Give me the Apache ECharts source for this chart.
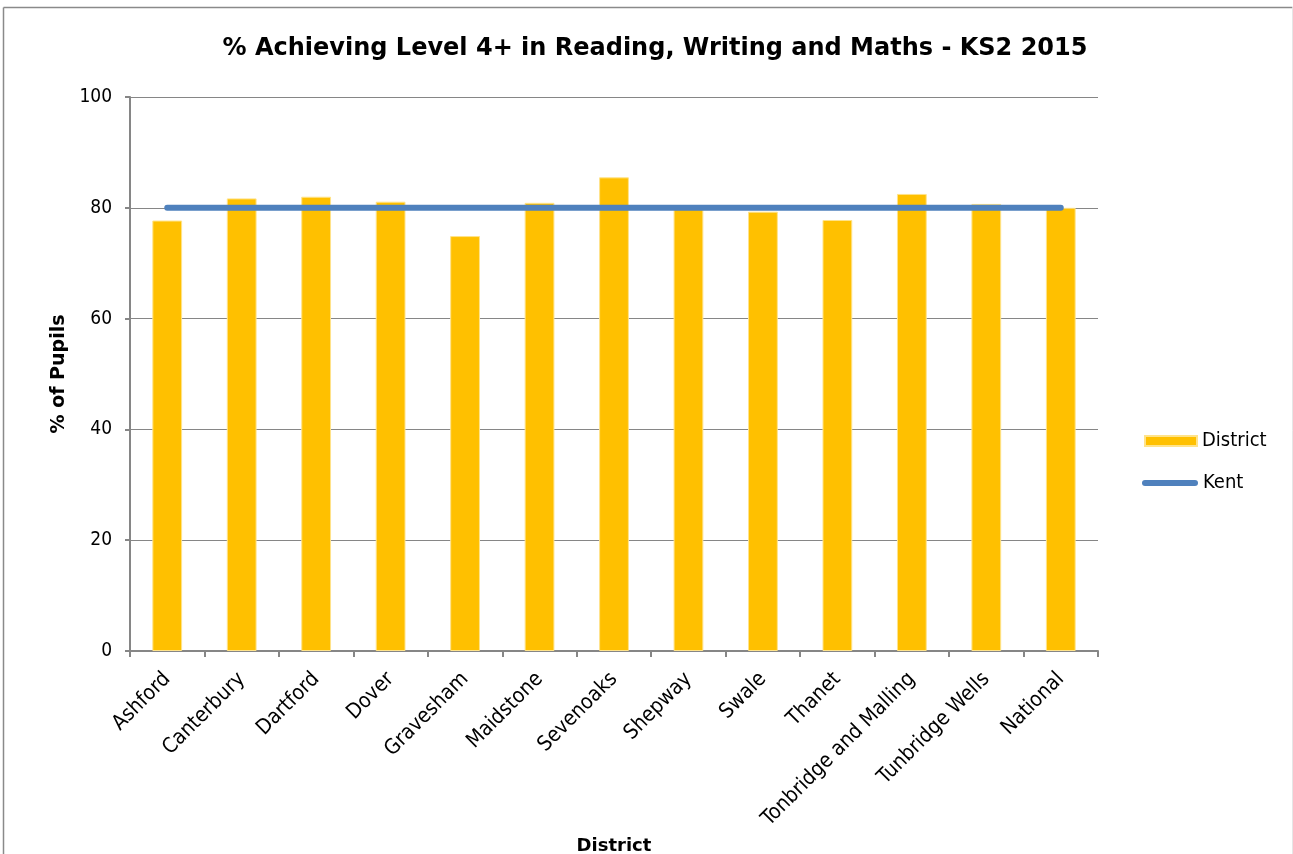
<!DOCTYPE html>
<html>
<head>
<meta charset="utf-8">
<title>KS2 2015</title>
<script src="https://cdn.jsdelivr.net/npm/echarts@6/dist/echarts.min.js"></script>
<style>
  html, body { margin: 0; padding: 0; background: #fff; }
  #chart { width: 1293px; height: 854px; }
</style>
</head>
<body>
<div id="chart"></div>
<script>
const districts = ['Ashford', 'Canterbury', 'Dartford', 'Dover', 'Gravesham', 'Maidstone', 'Sevenoaks',
  'Shepway', 'Swale', 'Thanet', 'Tonbridge and Malling', 'Tunbridge Wells', 'National']
const districtValues = [77.7, 81.7, 82.0, 81.1, 74.9, 80.9, 85.5, 80.0, 79.3, 77.8, 82.5, 80.7, 80.0]
const kentValues = [80, 80, 80, 80, 80, 80, 80, 80, 80, 80, 80, 80, 80]

const FONT = 'DejaVu Sans Condensed, DejaVu Sans, sans-serif'
const FONT_BOLD = 'DejaVu Sans, sans-serif'
const GREY = '#868686'
const BLUE = '#4F81BD'

const chart = echarts.init(document.getElementById('chart'), null, { renderer: 'canvas' })

const legendText = { fontFamily: FONT, fontSize: 20, color: '#000' }

const option = {
  backgroundColor: '#fff',
  animation: false,
  textStyle: { fontFamily: FONT },
  title: {
    text: '% Achieving Level 4+ in Reading, Writing and Maths - KS2 2015',
    left: 650,
    textAlign: 'center',
    top: 32,
    textStyle: { fontFamily: FONT_BOLD, fontWeight: 'bold', fontSize: 24, color: '#000' }
  },
  legend: [
    {
      left: 1144,
      top: 431,
      padding: 0,
      itemWidth: 52,
      itemHeight: 10,
      textStyle: legendText,
      data: [{ name: 'District', icon: 'rect' }]
    },
    {
      left: 1142,
      top: 473,
      padding: 0,
      itemWidth: 56,
      itemHeight: 6,
      textStyle: legendText,
      data: [{
        name: 'Kent',
        icon: 'path://M3,0L53,0A3,3,0,0,1,53,6L3,6A3,3,0,0,1,3,0Z',
        itemStyle: { color: BLUE }
      }]
    }
  ],
  grid: { left: 130, right: 195, top: 97, bottom: 203, outerBoundsMode: 'none' },
  xAxis: {
    type: 'category',
    data: districts,
    name: 'District',
    nameLocation: 'middle',
    nameGap: 183,
    nameTextStyle: { fontFamily: FONT_BOLD, fontWeight: 'bold', fontSize: 18, color: '#000' },
    axisLine: { lineStyle: { color: GREY, width: 2 } },
    axisTick: { show: true, length: 6, lineStyle: { color: GREY, width: 2 } },
    axisLabel: { rotate: 45, fontFamily: FONT, fontSize: 21, color: '#000', margin: 25, interval: 0 }
  },
  yAxis: {
    type: 'value',
    min: 0,
    max: 100,
    interval: 20,
    name: '% of Pupils',
    nameLocation: 'middle',
    nameGap: 58,
    nameTextStyle: { fontFamily: FONT_BOLD, fontWeight: 'bold', fontSize: 19, color: '#000' },
    axisLine: { show: true, lineStyle: { color: GREY, width: 2 } },
    axisTick: { show: true, length: 5, lineStyle: { color: GREY, width: 2 } },
    axisLabel: { fontFamily: FONT, fontSize: 19, color: '#000', margin: 18 },
    splitLine: { lineStyle: { color: GREY, width: 1 } }
  },
  series: [
    {
      name: 'District',
      type: 'bar',
      data: districtValues,
      barWidth: '40%',
      itemStyle: { color: '#FFC000', borderColor: '#FFE38A', borderWidth: 1 }
    },
    {
      name: 'Kent',
      type: 'line',
      data: kentValues,
      symbol: 'none',
      z: 5,
      lineStyle: { color: BLUE, width: 6, cap: 'round' },
      itemStyle: { color: BLUE }
    }
  ],
  graphic: [
    { type: 'line', shape: { x1: 3.5, y1: 7.5, x2: 1292.5, y2: 7.5 }, style: { stroke: '#8a8a8a', lineWidth: 1.5 } },
    { type: 'line', shape: { x1: 3.5, y1: 7.5, x2: 3.5, y2: 854 }, style: { stroke: '#8a8a8a', lineWidth: 1.5 } },
    { type: 'line', shape: { x1: 1292.5, y1: 7.5, x2: 1292.5, y2: 854 }, style: { stroke: '#e6e6e6', lineWidth: 1 } }
  ]
}

chart.setOption(option)
</script>
</body>
</html>
